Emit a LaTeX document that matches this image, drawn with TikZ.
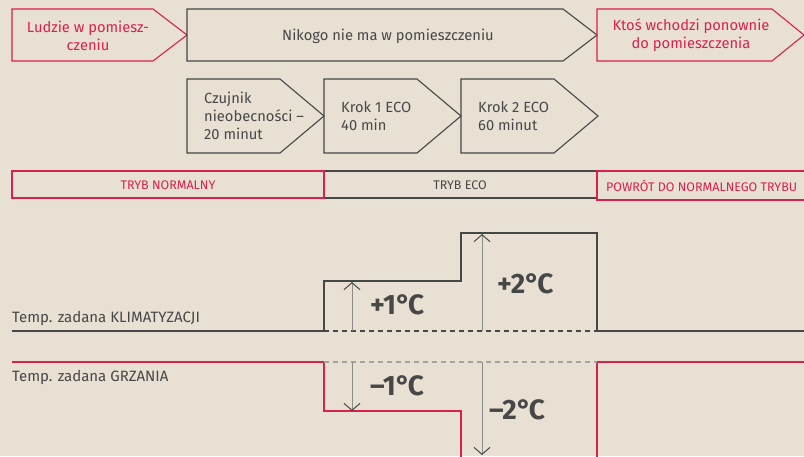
\documentclass[tikz,border=0pt]{standalone}
\usepackage{fontspec}
\setmainfont{Fira Sans}
\usetikzlibrary{%
    arrows.meta,
    calc,
    positioning
}
\definecolor{beige}{HTML}{E8E0D3}
\definecolor{ink}{HTML}{474747}
\definecolor{alarm}{HTML}{D8214C}
\definecolor{faint}{HTML}{A3A3A3}
\definecolor{shaft}{HTML}{8E8C88}
\newcommand{\degC}{°\kern-2.5pt C}
\tikzset{
    greybox/.style = {draw=ink, line width=1.1pt},
    redbox/.style = {draw=alarm, line width=1.1pt},
    boxtext/.style = {font=\fontsize{14.7}{18}\selectfont, text=ink, inner sep=0pt},
    redtext/.style = {boxtext, text=alarm},
    modetext/.style = {font=\fontsize{12.5}{15}\selectfont, inner sep=0pt},
    labeltext/.style = {font=\fontsize{15}{16}\selectfont, text=ink, anchor=base west, inner sep=0pt},
    setline/.style = {line width=1.8pt, draw=ink},
    deltatext/.style = {font=\fontsize{28}{30}\selectfont\bfseries, text=ink, inner sep=0pt, anchor=base west},
    deltaarrow/.style = {shaft, line width=1pt, -{Straight Barb[length=7pt,width=16pt,color=ink]}}
}

\begin{document}
\begin{tikzpicture}[x=1pt,y=-1pt]
    \useasboundingbox[fill=beige] (0,0) rectangle (804,456);

    % events
    \draw[redbox] (12,9) -- (153,9) -- (187,35) -- (153,61) -- (12,61) -- cycle;
    \draw[greybox] (187,9) -- (563,9) -- (597,35) -- (563,61) -- (187,61) -- cycle;
    \draw[redbox] (597,9) -- (772,9) -- (804,35) -- (772,61) -- (597,61) -- cycle;
    \node[redtext, align=center] (ludzie) at (88,36) {Ludzie w pomiesz-\\czeniu};
    \node[boxtext] (nikogo) at (388,36) {Nikogo nie ma w pomieszczeniu};
    \node[redtext, align=center] (ktos) at (691,35) {Ktoś wchodzi ponownie\\do pomieszczenia};

    % eco steps
    \foreach \x in {187,324,461}
        \draw[greybox] (\x,79) -- ++(93,0) -- ++(44,37) -- ++(-44,37) -- ++(-93,0) -- cycle;
    \node[boxtext, align=left, anchor=west] (czujnik) at (204,116) {Czujnik\\nieobecności –\\20 minut};
    \node[boxtext, align=left, anchor=west] (krok1) at (341,116) {Krok 1 ECO\\40 min};
    \node[boxtext, align=left, anchor=west] (krok2) at (478,116) {Krok 2 ECO\\60 minut};

    % modes
    \draw[greybox] (324,171) rectangle (597,198);
    \draw[redbox] (12,171) rectangle (324,198);
    \draw[redbox] (597,171) rectangle (806,200);
    \node[modetext, text=alarm] (normal) at (168,185) {TRYB NORMALNY};
    \node[modetext, text=ink] (eco) at (460,185) {TRYB ECO};
    \node[modetext, text=alarm, anchor=west] (powrot) at (606,186) {POWRÓT DO NORMALNEGO TRYBU};

    % set points
    \coordinate (k0) at (324,331);
    \coordinate (k1) at (324,281);
    \coordinate (k2) at (461,233);
    \coordinate (k3) at (597,331);
    \coordinate (g0) at (324,362);
    \coordinate (g1) at (324,411);
    \coordinate (g3) at (597,362);
    \draw[setline, line join=miter] (12,331) -- (k0) -- (k1) -| (k2) -| (k3) -- (806,331);
    \draw[setline, dashed, line width=1.3pt, dash pattern=on 5pt off 4pt] (k0) -- (k3);
    \draw[setline, draw=alarm, line width=1.6pt] (12,362) -- (g0) -- (g1) -| (461,458);
    \draw[setline, draw=alarm, line width=1.6pt] (597,458) -- (g3) -- (806,362);
    \draw[faint, line width=1.3pt, dash pattern=on 5pt off 4pt] (g0) -- (g3);

    \node[labeltext] (klim) at (12,322.5) {Temp. zadana KLIMATYZACJI};
    \node[labeltext] (grz) at (12,381.5) {Temp. zadana GRZANIA};

    % deltas
    \coordinate (a1) at (352,331);
    \coordinate (b1) at (352,282);
    \coordinate (a2) at (482,331);
    \coordinate (b2) at (482,234);
    \coordinate (c1) at (352,362);
    \coordinate (d1) at (352,411);
    \coordinate (c2) at (482,362);
    \coordinate (d2) at (482,455);
    \draw[deltaarrow] (a1) -- (b1);
    \draw[deltaarrow] (a2) -- (b2);
    \draw[deltaarrow] (c1) -- (d1);
    \draw[deltaarrow] (c2) -- (d2);
    \node[deltatext] (plus1) at (370,314) {+1\degC};
    \node[deltatext] (plus2) at (497,293) {+2\degC};
    \node[deltatext] (minus1) at (370,395) {–1\degC};
    \node[deltatext] (minus2) at (489,419) {–2\degC};
\end{tikzpicture}
\end{document}
